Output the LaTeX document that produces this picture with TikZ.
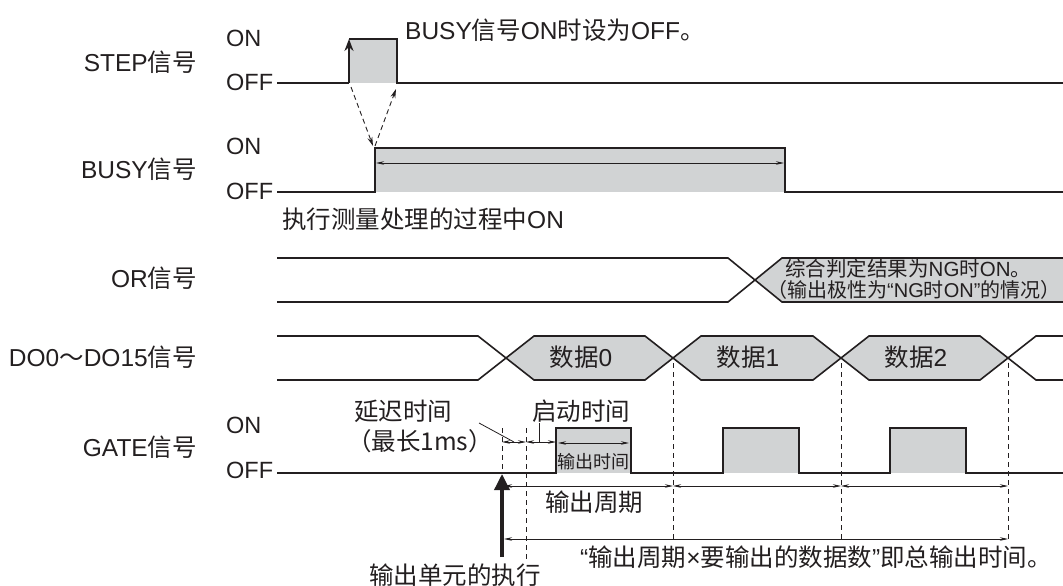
\documentclass[tikz,border=0pt]{standalone}
\usepackage{fontspec}
\setmainfont{Liberation Sans}
\newfontfamily\cjk{Noto Sans CJK SC}
\usetikzlibrary{arrows.meta}
\newcommand\zhtext[1]{{\cjk #1}}
\definecolor{ink}{HTML}{231F20}
\definecolor{pulse}{HTML}{D1D3D4}
\begin{document}
\begin{tikzpicture}[x=1pt,y=-1pt,
  sig/.style={draw=ink,line width=1.6pt,line join=miter},
  lab/.style={inner sep=0pt,text=ink,font=\fontsize{24.5}{28}\selectfont},
  onoff/.style={inner sep=0pt,text=ink,font=\fontsize{23.5}{27}\selectfont},
  note/.style={inner sep=0pt,text=ink,font=\fontsize{20.5}{23}\selectfont},
  notetwo/.style={inner sep=0pt,text=ink,font=\fontsize{20}{23}\selectfont},
  tinylab/.style={inner sep=0pt,text=ink,font=\fontsize{18}{20}\selectfont},
  dim/.style={draw=ink,line width=0.7pt,{Stealth[length=8pt,width=3.5pt]}-{Stealth[length=8pt,width=3.5pt]}},
  leader/.style={draw=ink,line width=0.8pt},
  guide/.style={draw=ink,line width=0.8pt,dash pattern=on 5pt off 4pt},
  dasharrow/.style={draw=ink,line width=0.9pt,dash pattern=on 5pt off 3.5pt,-{Stealth[length=9pt,width=5pt]}},
  boxfill/.style={fill=pulse}
]
\useasboundingbox[fill=white] (0,0) rectangle (1063,586);

% ---------------- left labels ----------------
\node[lab,anchor=east] (lstep) at (197,62) {STEP\zhtext{信号}};
\node[lab,anchor=east] (lbusy) at (197,169) {BUSY\zhtext{信号}};
\node[lab,anchor=east] (lor) at (197,278) {OR\zhtext{信号}};
\node[lab,anchor=east] (ldo) at (197,357) {DO0\zhtext{～}DO15\zhtext{信号}};
\node[lab,anchor=east] (lgate) at (197,447) {GATE\zhtext{信号}};
\node[onoff,anchor=west] (onstep) at (226,38) {ON};
\node[onoff,anchor=west] (offstep) at (226,82) {OFF};
\node[onoff,anchor=west] (onbusy) at (226,146) {ON};
\node[onoff,anchor=west] (offbusy) at (226,191) {OFF};
\node[onoff,anchor=west] (ongate) at (226,425) {ON};
\node[onoff,anchor=west] (offgate) at (226,470) {OFF};

% ---------------- STEP ----------------
\coordinate (sA) at (349,83);
\coordinate (sB) at (349,39);
\coordinate (sC) at (397,39);
\coordinate (sD) at (397,83);
\fill[boxfill] (sB) rectangle (sD);
\draw[sig] (277,83) -- (sA);
\draw[sig] (sB) -- (sC) -- (sD) -- (1063,83);
\draw[draw=ink,line width=2.8pt,-{Stealth[length=12pt,width=9pt]}] (sA) -- (sB);
\node[lab,anchor=west] (busynote) at (405,30) {BUSY\zhtext{信号}ON\zhtext{时设为}OFF\zhtext{。}};

% ---------------- BUSY ----------------
\coordinate (bA) at (375,192);
\coordinate (bB) at (375,148);
\coordinate (bC) at (785,148);
\coordinate (bD) at (785,192);
\fill[boxfill] (bB) rectangle (bD);
\draw[sig] (277,192) -- (bA) -- (bB) -- (bC) -- (bD) -- (1063,192);
\coordinate (bL) at (376,163);
\coordinate (bR) at (784,163);
\draw[dim] (bL) -- (bR);
\node[lab,anchor=west] (procnote) at (282,219) {\zhtext{执行测量处理的过程中}ON};

% dashed arrows STEP <-> BUSY
\coordinate (d1s) at (351,87);
\coordinate (d1e) at (373,146);
\coordinate (d2s) at (375,146);
\coordinate (d2e) at (396,89);
\draw[dasharrow] (d1s) -- (d1e);
\draw[dasharrow] (d2s) -- (d2e);

% ---------------- OR ----------------
\fill[boxfill] (755,280) -- (782,258) -- (1063,258) -- (1063,302) -- (782,302) -- cycle;
\draw[sig] (277,258) -- (728,258) -- (782,302) -- (1063,302);
\draw[sig] (277,302) -- (728,302) -- (782,258) -- (1063,258);
\node[note,anchor=west] (ornote1) at (785,269) {\zhtext{综合判定结果为}NG\zhtext{时}ON\zhtext{。}};
\node[notetwo,anchor=west] (ornote2) at (767,290) {\zhtext{（输出极性为}“NG\zhtext{时}ON”\zhtext{的情况）}};

% ---------------- DO0~DO15 ----------------
\foreach \a/\b in {506/673,673/841,841/1008}{
  \fill[boxfill] (\a,358) -- (\a+28,336) -- (\b-28,336) -- (\b,358) -- (\b-28,380) -- (\a+28,380) -- cycle;
}
\draw[sig] (277,336) -- (478,336) -- (534,380) -- (645,380) -- (701,336) -- (813,336) -- (869,380) -- (980,380) -- (1036,336) -- (1063,336);
\draw[sig] (277,380) -- (478,380) -- (534,336) -- (645,336) -- (701,380) -- (813,380) -- (869,336) -- (980,336) -- (1036,380) -- (1063,380);
\node[lab] (d0) at (581,357) {\zhtext{数据}0};
\node[lab] (d1) at (748,357) {\zhtext{数据}1};
\node[lab] (d2) at (916,357) {\zhtext{数据}2};

% ---------------- GATE ----------------
\foreach \a/\b in {556/631,723/799,890/966}{
  \fill[boxfill] (\a,428) rectangle (\b,473);
}
\draw[sig] (277,473) -- (556,473) -- (556,428) -- (631,428) -- (631,473) -- (723,473) -- (723,428) -- (799,428) -- (799,473) -- (890,473) -- (890,428) -- (966,428) -- (966,473) -- (1063,473);

% guides
\coordinate (gx0t) at (502,428); \coordinate (gx0b) at (502,474);
\coordinate (gx1t) at (526,428); \coordinate (gx1b) at (526,559);
\coordinate (gp1t) at (673,363); \coordinate (gp1b) at (673,541);
\coordinate (gp2t) at (841,363); \coordinate (gp2b) at (841,541);
\coordinate (gp3t) at (1008,363); \coordinate (gp3b) at (1008,541);
\draw[guide] (gx0t) -- (gx0b);
\draw[guide] (gx1t) -- (gx1b);
\draw[guide] (gp1t) -- (gp1b);
\draw[guide] (gp2t) -- (gp2b);
\draw[guide] (gp3t) -- (gp3b);

% execution arrow
\coordinate (exB) at (502,557);
\coordinate (exT) at (502,474);
\draw[draw=ink,line width=3.5pt,-{Triangle[length=16pt,width=15pt]}] (exB) -- (exT);
\node[lab] (exlab) at (455,575) {\zhtext{输出单元的执行}};

% delay & startup
\node[lab] (delay1) at (403,411) {\zhtext{延迟时间}};
\node[lab] (delay2) at (420,441) {\zhtext{（最长1ms）}};
\node[lab] (startlab) at (581,411) {\zhtext{启动时间}};
\coordinate (dl1) at (479,423); \coordinate (dl2) at (514,442);
\draw[leader] (dl1) -- (dl2);
\coordinate (sl1) at (539,423); \coordinate (sl2) at (539,442);
\draw[leader] (sl1) -- (sl2);
\coordinate (dm0) at (502,442); \coordinate (dm1) at (526,442); \coordinate (dm2) at (556,442);
\draw[dim] (dm0) -- (dm1);
\draw[dim] (dm1) -- (dm2);

% output time
\coordinate (ot1) at (558,443); \coordinate (ot2) at (629,443);
\draw[dim] (ot1) -- (ot2);
\node[tinylab] (otlab) at (593,462) {\zhtext{输出时间}};

% output period
\coordinate (op0) at (504,486); \coordinate (op1) at (673,486);
\coordinate (op2) at (841,486); \coordinate (op3) at (1008,486);
\draw[dim] (op0) -- (op1);
\draw[dim] (op1) -- (op2);
\draw[dim] (op2) -- (op3);
\node[lab] (oplab) at (594,502) {\zhtext{输出周期}};

% total
\coordinate (tt0) at (504,539); \coordinate (tt1) at (1008,539);
\draw[dim] (tt0) -- (tt1);
\node[lab] (ttlab) at (816,557) {“\zhtext{输出周期}×\zhtext{要输出的数据数}”\zhtext{即总输出时间。}};
\end{tikzpicture}
\end{document}
